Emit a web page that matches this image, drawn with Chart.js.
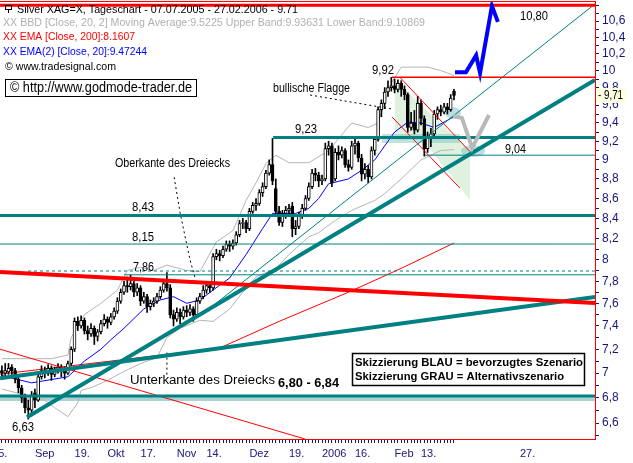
<!DOCTYPE html>
<html>
<head>
<meta charset="utf-8">
<title>Silver XAG=X Tageschart</title>
<script src="https://cdn.jsdelivr.net/npm/chart.js@4/dist/chart.umd.min.js"></script>
<style>
  html, body { margin: 0; padding: 0; background: #fff; }
  canvas { display: block; }
</style>
</head>
<body>
<canvas id="chart" width="633" height="463"></canvas>
<script>
// Handelstage: Index 0 = Mo 15.08.2005, ein Schritt pro Wochentag
const firstDay = 3;

const opens = [
  7.02, 7.00, 7.01, 7.05, 7.02, 6.95, 6.88, 6.80, 6.72, 6.70,
  6.84, 6.78, 6.97, 7.02, 7.00, 7.04, 6.99, 7.03, 7.05, 7.02,
  7.00, 7.08, 7.20, 7.44, 7.40, 7.45, 7.36, 7.33, 7.38, 7.31,
  7.35, 7.42, 7.46, 7.43, 7.48, 7.53, 7.62, 7.70, 7.76, 7.75,
  7.78, 7.70, 7.74, 7.62, 7.66, 7.57, 7.60, 7.62, 7.66, 7.72,
  7.78, 7.74, 7.50, 7.46, 7.52, 7.48, 7.54, 7.52, 7.55, 7.50,
  7.62, 7.66, 7.72, 7.76, 7.74, 8.03, 8.06, 8.04, 8.10, 8.15,
  8.13, 8.16, 8.24, 8.35, 8.36, 8.30, 8.47, 8.53, 8.55, 8.66,
  8.72, 8.86, 8.95, 8.70, 8.47, 8.36, 8.45, 8.48, 8.52, 8.30,
  8.32, 8.42, 8.50, 8.60, 8.72, 8.86, 8.84, 8.78, 8.80, 9.12,
  9.15, 8.80, 9.08, 9.05, 9.10, 8.95, 8.92, 9.15, 9.18, 9.02,
  8.85, 8.90, 8.82, 9.10, 9.22, 9.55, 9.62, 9.75, 9.80, 9.82,
  9.78, 9.85, 9.78, 9.72, 9.35, 9.40, 9.32, 9.62, 9.45, 9.12,
  9.25, 9.28, 9.50, 9.55, 9.52, 9.58, 9.55, 9.76
];
const highs = [
  7.06, 7.08, 7.08, 7.07, 7.04, 6.97, 6.90, 6.83, 6.78, 6.85,
  6.87, 7.00, 7.06, 7.05, 7.07, 7.06, 7.05, 7.08, 7.07, 7.05,
  7.10, 7.22, 7.47, 7.48, 7.49, 7.47, 7.40, 7.42, 7.40, 7.37,
  7.45, 7.50, 7.48, 7.51, 7.56, 7.65, 7.73, 7.80, 7.84, 7.86,
  7.80, 7.78, 7.76, 7.70, 7.68, 7.63, 7.65, 7.69, 7.75, 7.82,
  7.88, 7.77, 7.54, 7.56, 7.55, 7.57, 7.58, 7.59, 7.57, 7.65,
  7.69, 7.76, 7.80, 7.79, 8.06, 8.10, 8.09, 8.13, 8.18, 8.18,
  8.19, 8.27, 8.38, 8.40, 8.38, 8.50, 8.56, 8.60, 8.69, 8.76,
  8.89, 9.00, 9.23, 8.80, 8.52, 8.48, 8.52, 8.54, 8.56, 8.38,
  8.46, 8.54, 8.63, 8.76, 8.90, 8.91, 8.87, 8.84, 9.18, 9.20,
  9.18, 9.12, 9.15, 9.14, 9.12, 9.00, 9.20, 9.22, 9.20, 9.06,
  8.96, 8.94, 9.14, 9.25, 9.58, 9.66, 9.80, 9.88, 9.92, 9.90,
  9.89, 9.88, 9.82, 9.74, 9.52, 9.54, 9.70, 9.66, 9.48, 9.30,
  9.34, 9.54, 9.58, 9.60, 9.62, 9.62, 9.72, 9.78
];
const lows = [
  6.96, 6.98, 6.99, 6.98, 6.92, 6.84, 6.76, 6.68, 6.63, 6.68,
  6.72, 6.77, 6.95, 6.96, 6.98, 6.94, 6.97, 7.00, 6.97, 6.95,
  6.99, 7.06, 7.18, 7.36, 7.38, 7.33, 7.28, 7.31, 7.24, 7.27,
  7.33, 7.40, 7.38, 7.41, 7.46, 7.51, 7.60, 7.68, 7.70, 7.72,
  7.66, 7.67, 7.58, 7.60, 7.52, 7.54, 7.57, 7.60, 7.64, 7.70,
  7.71, 7.47, 7.40, 7.44, 7.42, 7.46, 7.48, 7.49, 7.44, 7.48,
  7.60, 7.64, 7.69, 7.70, 7.72, 8.00, 7.99, 8.02, 8.08, 8.08,
  8.10, 8.14, 8.22, 8.30, 8.26, 8.28, 8.45, 8.48, 8.53, 8.62,
  8.70, 8.84, 8.74, 8.42, 8.33, 8.32, 8.40, 8.44, 8.22, 8.24,
  8.30, 8.40, 8.48, 8.58, 8.70, 8.78, 8.72, 8.74, 8.78, 9.05,
  8.72, 8.78, 9.00, 9.02, 8.92, 8.88, 8.90, 9.06, 8.98, 8.78,
  8.80, 8.76, 8.80, 9.05, 9.20, 9.47, 9.56, 9.70, 9.76, 9.74,
  9.75, 9.70, 9.66, 9.30, 9.32, 9.28, 9.30, 9.38, 9.04, 9.08,
  9.14, 9.26, 9.44, 9.48, 9.50, 9.50, 9.53, 9.66
];
const closes = [
  7.00, 7.02, 7.04, 7.02, 6.95, 6.88, 6.80, 6.72, 6.70, 6.82,
  6.78, 6.97, 7.02, 7.00, 7.04, 6.99, 7.03, 7.05, 7.02, 7.00,
  7.08, 7.20, 7.44, 7.40, 7.45, 7.36, 7.33, 7.38, 7.31, 7.35,
  7.42, 7.46, 7.43, 7.48, 7.53, 7.62, 7.70, 7.76, 7.75, 7.78,
  7.70, 7.74, 7.62, 7.66, 7.57, 7.60, 7.62, 7.66, 7.72, 7.78,
  7.74, 7.50, 7.46, 7.52, 7.48, 7.54, 7.52, 7.55, 7.50, 7.62,
  7.66, 7.72, 7.76, 7.74, 8.03, 8.06, 8.04, 8.10, 8.15, 8.13,
  8.16, 8.24, 8.35, 8.36, 8.30, 8.47, 8.53, 8.55, 8.66, 8.72,
  8.86, 8.95, 8.78, 8.47, 8.36, 8.45, 8.48, 8.50, 8.30, 8.32,
  8.42, 8.50, 8.60, 8.72, 8.86, 8.84, 8.78, 8.80, 9.12, 9.15,
  8.76, 9.08, 9.05, 9.10, 8.95, 8.92, 9.15, 9.18, 9.02, 8.85,
  8.90, 8.82, 9.10, 9.22, 9.55, 9.62, 9.75, 9.80, 9.82, 9.78,
  9.85, 9.78, 9.72, 9.35, 9.40, 9.32, 9.62, 9.45, 9.12, 9.25,
  9.28, 9.50, 9.55, 9.52, 9.58, 9.55, 9.68, 9.71
];

// Indikatoren
const ema20X = [3, 12, 23, 28, 33, 36, 40, 46, 51, 55, 59, 63, 67, 72, 77, 82, 85, 92, 96, 99, 102, 108, 112, 116, 119, 122, 126, 130, 134, 138, 140];
const ema20Y = [6.98, 6.92, 6.97, 7.10, 7.20, 7.28, 7.38, 7.55, 7.63, 7.66, 7.60, 7.63, 7.72, 7.83, 8.05, 8.30, 8.45, 8.45, 8.50, 8.60, 8.75, 8.80, 8.89, 9.00, 9.15, 9.30, 9.41, 9.40, 9.35, 9.43, 9.47];
const ema200X = [2, 36, 69, 87, 108, 124, 140];
const ema200Y = [6.99, 7.10, 7.21, 7.44, 7.70, 7.92, 8.16];
const bandUpX = [3, 12, 18, 23, 24, 28, 33, 38, 41, 45, 49, 53, 59, 63, 68, 73, 77, 80, 83, 86, 90, 96, 102, 109, 114, 117, 121, 124, 132, 136, 140];
const bandUpY = [7.12, 7.12, 7.12, 7.15, 7.30, 7.50, 7.60, 7.72, 7.90, 7.93, 7.90, 7.95, 7.90, 7.89, 8.17, 8.28, 8.58, 8.76, 8.96, 9.05, 8.97, 8.97, 9.10, 9.40, 9.35, 9.40, 9.85, 10.04, 10.04, 10.00, 9.94];
const bandLowX = [3, 16, 19, 23, 26, 27, 30, 35, 39, 45, 50, 53, 57, 63, 67, 72, 76, 80, 86, 90, 96, 99, 104, 109, 116, 119, 124, 130, 136, 140];
const bandLowY = [6.87, 6.78, 6.72, 6.65, 6.76, 6.86, 6.88, 6.94, 7.00, 7.08, 7.13, 7.30, 7.38, 7.45, 7.44, 7.55, 7.70, 7.84, 7.92, 8.05, 8.22, 8.26, 8.38, 8.48, 8.58, 8.65, 8.80, 9.00, 9.10, 9.11];

// Linien und Zonen
const levelValues = [10.80, 9.92, 9.24, 9.05, 8.43, 8.15, 7.86, 7.895, 6.814];
const levelStarts = [2.42, 121.2, 85.2, 131.2, 2.42, 2.42, 40, 10.9, 2.42];
const triangleTopX = [2.42, 182.73], triangleTopY = [7.886, 7.603];
const triangleLowX = [2.42, 182.73], triangleLowY = [6.957, 7.657];
const supportX = [10.6, 182.73], supportY = [6.645, 9.889];
const channelX = [67.6, 182.73], channelY = [7.594, 10.815];
const fallLineX = [2.42, 94.85], fallLineY = [7.20, 6.477];
const flagTopX = [123.6, 144.8], flagTopY = [9.92, 9.09];
const flagLowX = [121.2, 141.8], flagLowY = [9.468, 8.706];
const flagAreaX = [122.1, 144.8, 144.8, 130.6, 122.1];
const flagAreaY = [9.889, 9.095, 8.584, 9.213, 9.213];
const breakZoneX = [118.2, 141.8], breakZoneY = [9.181, 9.279];
const supportZoneY = [6.774, 6.814];
const bubbleX = [139.7, 145.8], bubbleY = [9.511, 9.095];
const blueX = [140.3, 143.6, 146.7, 147.9, 151.5, 153.3];
const blueY = [9.98, 9.98, 10.18, 9.97, 10.79, 10.59];
const greyX = [139.7, 142.4, 145.5, 150.6];
const greyY = [9.478, 9.456, 9.127, 9.489];
const flagPointerX = [96.4, 121.2], flagPointerY = [9.715, 9.556];
const topPointerX = [55.2, 57, 60, 61.5], topPointerY = [8.818, 8.455, 8.0, 7.835];
const lowPointerX = [53, 53], lowPointerY = [7.171, 6.978];

// Achsenbeschriftung
const tickDays = [0, 13, 25, 35, 45, 56, 65, 78, 90, 100, 110, 122, 130, 160];
const tickNames = ['15.', 'Sep', '19.', 'Okt', '17.', 'Nov', '14.', 'Dez', '19.', '2006', '16.', 'Feb', '13.', '27.'];
const priceLabels = [6.6, 6.8, 7, 7.2, 7.4, 7.6, 7.8, 8, 8.2, 8.4, 8.6, 8.8, 9, 9.2, 9.4, 9.6, 9.8, 10, 10.2, 10.4, 10.6];

const X_MIN = 2.42, X_MAX = 182.73;
const Y_MIN = 6.477, Y_MAX = 10.8535;
const NAVY = '#16167a';
const TEAL = '#008080';
const FONT = '"Liberation Sans", Arial, sans-serif';

Chart.defaults.font.family = FONT;

const line = (xs, ys, color, width, order, dash) => ({
  type: 'line',
  data: xs.map((x, k) => ({ x, y: ys[k] })),
  borderColor: color,
  borderWidth: width,
  borderDash: dash || [],
  pointRadius: 0,
  fill: false,
  tension: 0,
  order
});

const levelStyles = [
  ['#ff0000', 3], ['#ff0000', 1.5], [TEAL, 3], [TEAL, 1], [TEAL, 3],
  [TEAL, 1], [TEAL, 1], [TEAL, 1, [3, 3]], [TEAL, 3]
];

const days = closes.map((c, k) => firstDay + k);
const datasets = [];

// Szenarien
datasets.push(line(blueX, blueY, '#0000ff', 4, 1));
datasets.push(line(greyX, greyY, '#b9b9b9', 4, 1));

// Marken und Trendlinien
levelValues.forEach((v, k) => {
  const st = levelStyles[k];
  datasets.push(line([levelStarts[k], X_MAX], [v, v], st[0], st[1], 2, st[2]));
});
datasets.push(line(triangleTopX, triangleTopY, '#ff0000', 4, 2));
datasets.push(line(triangleLowX, triangleLowY, TEAL, 4, 2));
datasets.push(line(supportX, supportY, TEAL, 4, 2));
datasets.push(line(channelX, channelY, TEAL, 1, 2));
datasets.push(line(fallLineX, fallLineY, '#ff0000', 1, 2));
datasets.push(line(flagTopX, flagTopY, '#ff0000', 1, 2));
datasets.push(line(flagLowX, flagLowY, '#ff0000', 1, 2));
datasets.push(line(flagPointerX, flagPointerY, '#000', 1, 2, [2, 3]));
datasets.push(line(topPointerX, topPointerY, '#000', 1, 2, [2, 3]));
datasets.push(line(lowPointerX, lowPointerY, '#000', 1, 2, [2, 3]));

// Kerzen
datasets.push({
  type: 'bar',
  data: days.map((d, k) => ({ x: d, y: [opens[k], closes[k]] })),
  backgroundColor: closes.map((c, k) => (c >= opens[k] ? '#ffffff' : '#000000')),
  borderColor: '#000',
  borderWidth: 1,
  borderSkipped: false,
  barThickness: 3,
  grouped: false,
  order: 3
});
datasets.push({
  type: 'bar',
  data: days.map((d, k) => ({ x: d, y: [lows[k], highs[k]] })),
  backgroundColor: '#000',
  borderWidth: 0,
  barThickness: 1,
  grouped: false,
  order: 4
});

// Indikatoren
datasets.push(line(ema20X, ema20Y, '#0000ff', 1, 5));
datasets.push(line(bandUpX, bandUpY, '#b4b4b4', 1, 5));
datasets.push(line(bandLowX, bandLowY, '#b4b4b4', 1, 5));
datasets.push(line(ema200X, ema200Y, '#ff0000', 1, 5));

function label(ctx, s, x, y, w, font, color) {
  ctx.font = font || '12px ' + FONT;
  ctx.fillStyle = color || '#000';
  ctx.textBaseline = 'middle';
  ctx.textAlign = 'left';
  const m = ctx.measureText(s).width;
  ctx.save();
  ctx.translate(x, y);
  if (w) ctx.scale(w / m, 1);
  ctx.fillText(s, 0, 0);
  ctx.restore();
}

const overlay = {
  id: 'overlay',
  beforeDatasetsDraw(chart) {
    const { ctx, chartArea: a, scales } = chart;
    const X = v => scales.x.getPixelForValue(v);
    const Y = v => scales.y.getPixelForValue(v);
    ctx.save();
    ctx.beginPath();
    ctx.rect(a.left, a.top, a.right - a.left, a.bottom - a.top);
    ctx.clip();

    // Zone 6,80 - 6,84
    ctx.fillStyle = '#a9d3d3';
    ctx.fillRect(a.left, Y(supportZoneY[1]), a.right - a.left, Y(supportZoneY[0]) - Y(supportZoneY[1]));

    // Flaggen-Flaeche
    ctx.fillStyle = 'rgba(170, 220, 170, 0.38)';
    ctx.beginPath();
    flagAreaX.forEach((x, k) => (k ? ctx.lineTo(X(x), Y(flagAreaY[k])) : ctx.moveTo(X(x), Y(flagAreaY[k]))));
    ctx.closePath();
    ctx.fill();

    // Ausbruchszone
    ctx.fillStyle = 'rgba(120, 190, 190, 0.45)';
    ctx.fillRect(X(breakZoneX[0]), Y(breakZoneY[1]), X(breakZoneX[1]) - X(breakZoneX[0]), Y(breakZoneY[0]) - Y(breakZoneY[1]));

    // Markierungen
    ctx.fillStyle = 'rgba(130, 195, 200, 0.55)';
    [[8, 6], [12, 6]].forEach((r, k) => {
      ctx.beginPath();
      ctx.ellipse(X(bubbleX[k]), Y(bubbleY[k]), r[0], r[1], 0, 0, Math.PI * 2);
      ctx.fill();
    });
    ctx.restore();
  },
  afterDraw(chart) {
    const { ctx, chartArea: a } = chart;
    ctx.save();
    // oberer Rahmen
    ctx.strokeStyle = '#ff0000';
    ctx.lineWidth = 1;
    ctx.beginPath();
    ctx.moveTo(a.left, 1.5);
    ctx.lineTo(a.right, 1.5);
    ctx.stroke();

    // Legende
    const f11 = '11px ' + FONT;
    ctx.strokeStyle = '#000';
    ctx.strokeRect(5.5, 5.5, 6, 4);
    ctx.beginPath();
    ctx.moveTo(8.5, 9.5);
    ctx.lineTo(8.5, 13);
    ctx.stroke();
    label(ctx, 'Silver XAG=X, Tageschart - 07.07.2005 - 27.02.2006 - 9.71', 17, 10, 281, f11, '#000');
    label(ctx, 'XX BBD [Close, 20, 2] Moving Average:9.5225 Upper Band:9.93631 Lower Band:9.10869', 3, 23, 422, f11, '#b0b0b0');
    label(ctx, 'XX EMA [Close, 200]:8.1607', 3, 37, 132, f11, '#ff0000');
    label(ctx, 'XX EMA(2) [Close, 20]:9.47244', 3, 52, 144, f11, '#0000ff');
    label(ctx, '\u00a9 www.tradesignal.com', 5, 67, 111, f11, '#000');
    ctx.fillStyle = '#fff';
    ctx.fillRect(5, 79, 192, 18);
    ctx.strokeRect(5.5, 79.5, 191, 17);
    label(ctx, '\u00a9 http://www.godmode-trader.de', 10, 88, 182, '14px ' + FONT, '#000');

    // Beschriftungen
    const f12 = '12px ' + FONT;
    label(ctx, 'bullische Flagge', 273, 89, 77, f12);
    label(ctx, '9,92', 372, 71, 22, f12);
    label(ctx, '10,80', 520, 17, 28, f12);
    label(ctx, '9,23', 295, 130, 22, f12);
    label(ctx, '9,04', 505, 150, 21, f12);
    label(ctx, 'Oberkante des Dreiecks', 115, 164, 115, f12);
    label(ctx, '8,43', 132, 208, 22, f12);
    label(ctx, '8,15', 132, 238, 22, f12);
    label(ctx, '7,86', 133, 268, 21, f12);
    label(ctx, 'Unterkante des Dreiecks', 130, 381, 145, f12);
    label(ctx, '6,80 - 6,84', 278, 384, 61, 'bold 12px ' + FONT);
    label(ctx, '6,63', 12, 428, 22, f12);

    ctx.fillStyle = '#fff';
    ctx.fillRect(352, 353, 233, 33);
    ctx.strokeStyle = '#000';
    ctx.lineWidth = 1.5;
    ctx.strokeRect(352.5, 353.5, 232, 32);
    label(ctx, 'Skizzierung BLAU = bevorzugtes Szenario', 355, 363, 228, 'bold 11px ' + FONT);
    label(ctx, 'Skizzierung GRAU = Alternativszenario', 355, 377, 209, 'bold 11px ' + FONT);

    // Kursmarke
    ctx.fillStyle = '#ffffe1';
    ctx.fillRect(596, 88, 30, 15);
    label(ctx, '- 9,71', 598, 96, 25, f12, '#000');
    ctx.restore();
  }
};

new Chart(document.getElementById('chart'), {
  type: 'bar',
  data: { datasets },
  options: {
    responsive: false,
    animation: false,
    events: [],
    layout: { padding: { top: 1, left: 0, right: 0, bottom: 0 } },
    plugins: { legend: { display: false }, tooltip: { enabled: false } },
    scales: {
      x: {
        type: 'linear',
        min: X_MIN,
        max: X_MAX,
        offset: false,
        afterBuildTicks: s => {
          const t = [];
          for (let d = 0; d <= 140; d++) t.push({ value: d });
          t.push({ value: 160 });
          s.ticks = t;
        },
        afterFit: s => {
          s.height = 24;
          s.paddingLeft = 0;
          s.paddingRight = 0;
        },
        ticks: {
          autoSkip: false,
          maxRotation: 0,
          minRotation: 0,
          align: 'start',
          padding: 4,
          color: NAVY,
          font: { size: 11 },
          callback: v => {
            const k = tickDays.indexOf(v);
            return k < 0 ? '' : tickNames[k];
          }
        },
        grid: {
          drawOnChartArea: false,
          offset: false,
          tickLength: 4,
          tickColor: c => (c.tick && c.tick.value === 160 ? 'rgba(0,0,0,0)' : NAVY)
        },
        border: { color: '#ff0000' }
      },
      y: {
        type: 'logarithmic',
        position: 'right',
        min: Y_MIN,
        max: Y_MAX,
        afterBuildTicks: s => {
          const t = [];
          for (let k = 65; k <= 108; k++) t.push({ value: k / 10 });
          s.ticks = t;
        },
        afterFit: s => {
          s.width = 38;
          s.paddingTop = 0;
          s.paddingBottom = 0;
        },
        ticks: {
          autoSkip: false,
          padding: 3,
          color: NAVY,
          font: { size: 12 },
          callback: v => (priceLabels.some(p => Math.abs(p - v) < 1e-6) ? String(v).replace('.', ',') : '')
        },
        grid: { drawOnChartArea: false, tickLength: 4, tickColor: NAVY },
        border: { color: '#ff0000' }
      }
    }
  },
  plugins: [overlay]
});
</script>
</body>
</html>
